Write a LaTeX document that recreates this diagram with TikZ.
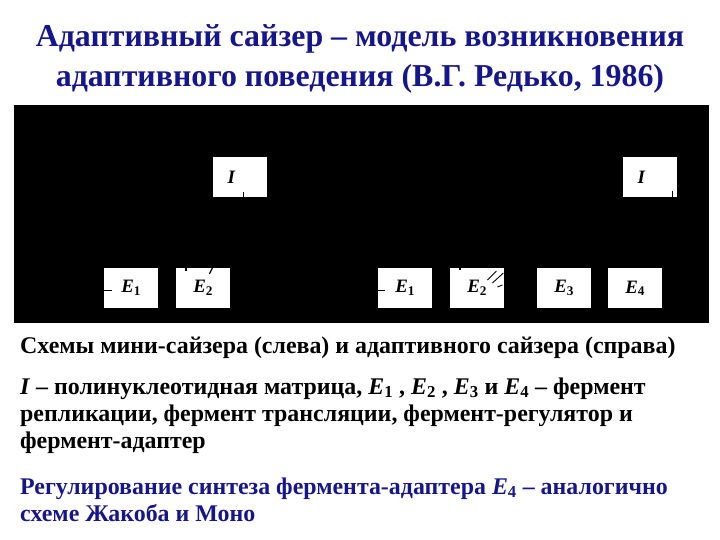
\documentclass[tikz,border=0pt]{standalone}
\usepackage{fontspec}
\setmainfont{Liberation Serif}
\definecolor{titleblue}{RGB}{22,22,140}
\tikzset{
  enzbox/.style={draw=none,fill=white,minimum width=54bp,minimum height=40bp,inner sep=0pt,font=\fontsize{19}{19}\selectfont\bfseries},
  tick/.style={line width=1.2pt,black},
  titletext/.style={anchor=base,inner sep=0pt,text=titleblue,font=\fontsize{32}{32}\selectfont\bfseries},
  bodytext/.style={anchor=base west,inner sep=0pt,font=\fontsize{24}{27}\selectfont\bfseries}
}
\begin{document}
\begin{tikzpicture}[x=1bp,y=1bp,yscale=-1]
  \useasboundingbox (0,0) rectangle (720,540);

  % Title
  \node (title1) [titletext] at (360,47) {Адаптивный сайзер – модель возникновения};
  \node (title2) [titletext] at (360,87) {адаптивного поведения (В.Г. Редько, 1986)};

  %Shape: Rectangle (black panel)
  \fill [black] (14,105) rectangle (709,323);

  % mini-sizer (left)
  \node (Ileft) [enzbox,anchor=north west] at (213,157) {};
  \node at ([xshift=-9bp]Ileft.center) [font=\fontsize{19}{19}\selectfont\bfseries\itshape] {I};
  \node (E1left) [enzbox,anchor=north west] at (104,268) {\itshape E\textsubscript{\upshape 1}};
  \node (E2left) [enzbox,anchor=north west] at (176,268) {\itshape E\textsubscript{\upshape 2}};

  % adaptive sizer (right)
  \node (Iright) [enzbox,anchor=north west] at (623,157) {};
  \node at ([xshift=-9bp]Iright.center) [font=\fontsize{19}{19}\selectfont\bfseries\itshape] {I};
  \node (E1right) [enzbox,anchor=north west] at (378,268) {\itshape E\textsubscript{\upshape 1}};
  \node (E2right) [enzbox,anchor=north west] at (450,268) {\itshape E\textsubscript{\upshape 2}};
  \node (E3right) [enzbox,anchor=north west] at (537,268) {\itshape E\textsubscript{\upshape 3}};
  \node (E4right) [enzbox,anchor=north west] at (608,268) {\itshape E\textsubscript{\upshape 4}};

  %Straight Lines (ticks)
  \draw [tick] ([xshift=3bp]Ileft.south) -- ++(0,-5);
  \draw [tick] ([xshift=-5bp]Iright.south east) -- ++(0,-6);
  \draw [tick] (E1left.west) ++(0,2) -- ++(8,0);
  \draw [tick] (E1right.west) ++(0,2) -- ++(7,0);
  \draw [tick] ([xshift=10bp]E2left.north west) -- ++(0,3);
  \draw [tick] ([xshift=-18bp]E2left.north east) -- ++(-3,6);
  \draw [tick] ([xshift=10bp]E2right.north west) -- ++(0,2);
  \draw [line width=0.9pt] ([xshift=-17bp,yshift=12bp]E2right.north east) -- ++(9,-9);
  \draw [line width=0.9pt] ([xshift=-12bp,yshift=15bp]E2right.north east) -- ++(11,-10);
  \draw [line width=0.9pt] ([xshift=-7bp,yshift=19bp]E2right.north east) -- ++(5,-2);

  % Text Node
  \node (caption) [bodytext] at (20,353) {Схемы мини-сайзера (слева) и адаптивного сайзера (справа)};
  % Text Node
  \node (legend1) [bodytext] at (20,394) {\textit{I} – полинуклеотидная матрица, \textit{E}\textsubscript{1} , \textit{E}\textsubscript{2} , \textit{E}\textsubscript{3} и \textit{E}\textsubscript{4} – фермент};
  \node (legend2) [bodytext] at (20,421) {репликации, фермент трансляции, фермент-регулятор и};
  \node (legend3) [bodytext] at (20,448) {фермент-адаптер};
  % Text Node
  \node (note1) [bodytext,text=titleblue] at (20,494) {Регулирование синтеза фермента-адаптера \textit{E}\textsubscript{4} – аналогично};
  \node (note2) [bodytext,text=titleblue] at (20,521) {схеме Жакоба и Моно};
\end{tikzpicture}
\end{document}
